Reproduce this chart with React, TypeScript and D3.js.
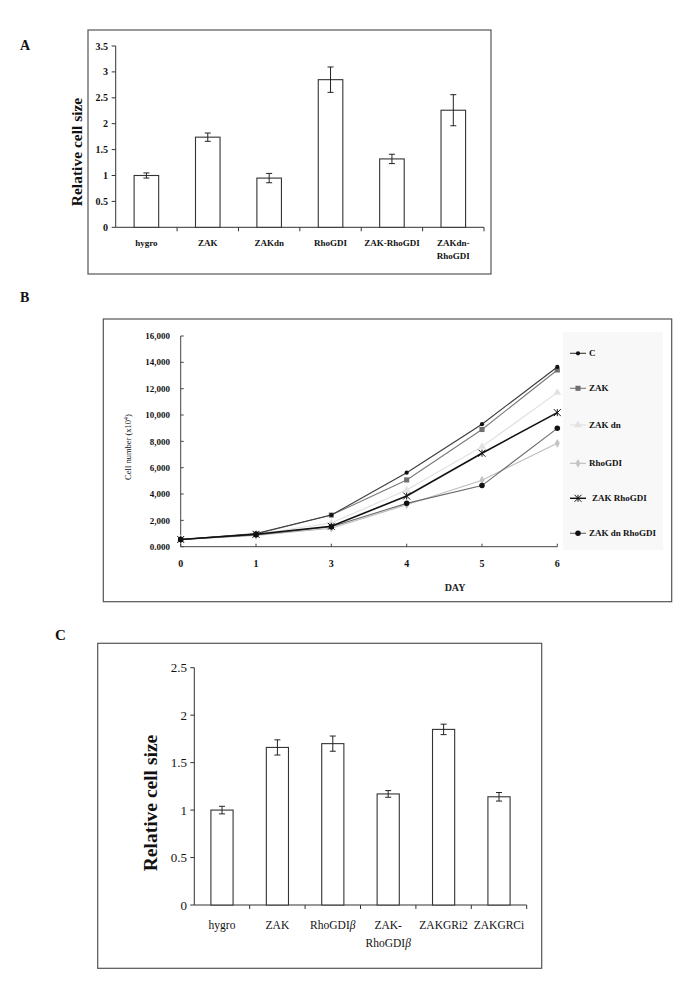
import React from "react";
import * as d3 from "d3";

// ---------- Panel A data ----------
const catsA = ["hygro", "ZAK", "ZAKdn", "RhoGDI", "ZAK-RhoGDI", "ZAKdn-RhoGDI"];
const labelsA = [["hygro"], ["ZAK"], ["ZAKdn"], ["RhoGDI"], ["ZAK-RhoGDI"], ["ZAKdn-", "RhoGDI"]];
const valsA = [1.0, 1.74, 0.95, 2.85, 1.32, 2.26];
const errA = [0.05, 0.08, 0.09, 0.245, 0.09, 0.3];
const ticksA = [0, 0.5, 1, 1.5, 2, 2.5, 3, 3.5];
const tickLabelsA = ["0", "0.5", "1", "1.5", "2", "2.5", "3", "3.5"];

// ---------- Panel B data ----------
const days = ["0", "1", "3", "4", "5", "6"];
const seriesNames = ["C", "ZAK", "ZAK dn", "RhoGDI", "ZAK RhoGDI", "ZAK dn RhoGDI"];
const sC = [550, 1000, 2400, 5620, 9300, 13650];
const sZAK = [550, 960, 2400, 5070, 8900, 13420];
const sZAKdn = [550, 950, 1800, 4300, 7600, 11700];
const sRho = [550, 860, 1400, 3180, 5050, 7850];
const sZAKRho = [550, 940, 1550, 3850, 7100, 10180];
const sZAKdnRho = [550, 900, 1520, 3290, 4640, 8990];
const ticksB = [0, 2000, 4000, 6000, 8000, 10000, 12000, 14000, 16000];
const tickLabelsB = ["0.000", "2,000", "4,000", "6,000", "8,000", "10,000", "12,000", "14,000", "16,000"];

// ---------- Panel C data ----------
const catsC = ["hygro", "ZAK", "RhoGDIb", "ZAK-RhoGDIb", "ZAKGRi2", "ZAKGRCi"];
const valsC = [1.0, 1.66, 1.70, 1.17, 1.85, 1.14];
const errC = [0.04, 0.08, 0.08, 0.035, 0.055, 0.045];
const ticksC = [0, 0.5, 1, 1.5, 2, 2.5];
const tickLabelsC = ["0", "0.5", "1", "1.5", "2", "2.5"];

const SERIF = "'Liberation Serif', 'Times New Roman', serif";

function BarPanel(props: any) {
  const { cats, vals, errs, ticks, tickLabels, yMax, x0, x1, y0, y1, box, bold, tickFont, labelFont,
    yLabelX, yLabelY, yLabelSize, xLabelY, xLabelLineH, renderLabel, tickLabelX, yTickOut, xTickLen } = props;
  const x = d3.scaleBand<string>().domain(cats).range([x0, x1]).paddingInner(0.6).paddingOuter(0.3);
  const y = d3.scaleLinear().domain([0, yMax]).range([y0, y1]);
  const step = x.step();
  return (
    <g>
      <rect x={box[0]} y={box[1]} width={box[2] - box[0]} height={box[3] - box[1]} fill="#fff" stroke="#555" strokeWidth={1.2} />
      {/* y axis */}
      <line x1={x0} x2={x0} y1={y(0)} y2={y(yMax)} stroke="#333" strokeWidth={1} />
      {ticks.map((t: number, i: number) => (
        <g key={"t" + i}>
          <line x1={x0 - yTickOut} x2={x0} y1={y(t)} y2={y(t)} stroke="#333" />
          <text x={tickLabelX} y={y(t)} dy="0.35em" textAnchor="end" fontFamily={SERIF}
            fontWeight={bold ? "bold" : "normal"} fontSize={tickFont} fill="#111">{tickLabels[i]}</text>
        </g>
      ))}
      {/* x axis */}
      <line x1={x0} x2={x1} y1={y(0)} y2={y(0)} stroke="#333" strokeWidth={1} />
      {cats.map((_: string, i: number) => (
        <line key={"xt" + i} x1={x0 + (i + 1) * step} x2={x0 + (i + 1) * step} y1={y(0)} y2={y(0) + xTickLen} stroke="#333" />
      ))}
      {/* bars */}
      {cats.map((c: string, i: number) => {
        const cx = (x(c) as number) + x.bandwidth() / 2;
        return (
          <g key={"b" + i}>
            <rect x={x(c)} y={y(vals[i])} width={x.bandwidth()} height={y(0) - y(vals[i])} fill="#fff" stroke="#333" strokeWidth={1.1} />
            <line x1={cx} x2={cx} y1={y(vals[i] + errs[i])} y2={y(vals[i] - errs[i])} stroke="#222" strokeWidth={1} />
            <line x1={cx - 3} x2={cx + 3} y1={y(vals[i] + errs[i])} y2={y(vals[i] + errs[i])} stroke="#222" strokeWidth={1} />
            <line x1={cx - 3} x2={cx + 3} y1={y(vals[i] - errs[i])} y2={y(vals[i] - errs[i])} stroke="#222" strokeWidth={1} />
            <text x={cx} y={xLabelY} textAnchor="middle" fontFamily={SERIF} fontWeight={bold ? "bold" : "normal"}
              fontSize={labelFont} fill="#111">
              {renderLabel(i, cx, xLabelY, xLabelLineH)}
            </text>
          </g>
        );
      })}
      <text transform={`translate(${yLabelX},${yLabelY}) rotate(-90)`} textAnchor="middle" dy="0.35em"
        fontFamily={SERIF} fontWeight="bold" fontSize={yLabelSize} fill="#111">Relative cell size</text>
    </g>
  );
}

const colorsB = ["#3a3a3a", "#7a7a7a", "#dedede", "#bdbdbd", "#111111", "#6a6a6a"];
const markerFill = ["#111", "#6f6f6f", "#e2e2e2", "#c4c4c4", "#111", "#111"];
const seriesData = [sC, sZAK, sZAKdn, sRho, sZAKRho, sZAKdnRho];

function Marker({ k, x, y }: { k: number; x: number; y: number }) {
  if (k === 4) {
    const r = 3.5;
    return (
      <g stroke="#111" strokeWidth={1}>
        <line x1={x - r} x2={x + r} y1={y - r} y2={y + r} />
        <line x1={x - r} x2={x + r} y1={y + r} y2={y - r} />
        <line x1={x} x2={x} y1={y - r} y2={y + r} />
      </g>
    );
  }
  const types = [d3.symbolCircle, d3.symbolSquare, d3.symbolTriangle, d3.symbolDiamond, d3.symbolCircle, d3.symbolCircle];
  const sizes = [14, 26, 26, 22, 0, 24];
  const p = d3.symbol().type(types[k]).size(sizes[k])();
  return <path d={p as string} transform={`translate(${x},${y})`} fill={markerFill[k]} />;
}

function LinePanel() {
  const x = d3.scalePoint<string>().domain(days).range([180.7, 557.3]).padding(0);
  const y = d3.scaleLinear().domain([0, 16000]).range([546.7, 336]);
  const line = d3.line<number>().x((_, i) => x(days[i]) as number).y((d) => y(d));
  const legendY = [353.3, 388.3, 425, 463.3, 498.3, 533.3];
  const drawOrder = [3, 2, 1, 0, 5, 4];
  return (
    <g>
      <rect x={103.3} y={319} width={568.4} height={282.7} fill="#fff" stroke="#555" strokeWidth={1.2} />
      <rect x={563} y={332} width={100} height={218} fill="#f8f8f8" />
      {/* axes */}
      <line x1={x("0")} x2={x("0")} y1={y(0)} y2={y(16000)} stroke="#444" />
      {ticksB.map((t, i) => (
        <g key={"yt" + i}>
          <line x1={x("0") as number} x2={(x("0") as number) + 3} y1={y(t)} y2={y(t)} stroke="#444" />
          <text x={170} y={y(t)} dy="0.35em" textAnchor="end" fontFamily={SERIF} fontWeight="bold" fontSize={9} fill="#111">{tickLabelsB[i]}</text>
        </g>
      ))}
      <line x1={x("0")} x2={x("6")} y1={y(0)} y2={y(0)} stroke="#444" />
      {days.map((d) => (
        <g key={"xt" + d}>
          <line x1={x(d)} x2={x(d)} y1={y(0)} y2={y(0) - 3} stroke="#444" />
          <text x={x(d)} y={567} textAnchor="middle" fontFamily={SERIF} fontWeight="bold" fontSize={10} fill="#111">{d}</text>
        </g>
      ))}
      <text x={455} y={591} textAnchor="middle" fontFamily={SERIF} fontWeight="bold" fontSize={10} fill="#222">DAY</text>
      <text transform="translate(128,447) rotate(-90)" textAnchor="middle" dy="0.35em" fontFamily={SERIF} fontSize={8.5} fill="#111">
        Cell number (x10<tspan dy="-3" fontSize={6}>4</tspan><tspan dy="3">)</tspan>
      </text>
      {/* series */}
      {drawOrder.map((k) => (
        <g key={"s" + k}>
          <path d={line(seriesData[k]) as string} fill="none" stroke={colorsB[k]} strokeWidth={k === 4 ? 1.6 : 1.1} />
          {seriesData[k].map((v, i) => (
            <Marker key={i} k={k} x={x(days[i]) as number} y={y(v)} />
          ))}
        </g>
      ))}
      {/* legend */}
      {seriesNames.map((n, k) => (
        <g key={"l" + k}>
          <line x1={570} x2={586} y1={legendY[k]} y2={legendY[k]} stroke={colorsB[k]} strokeWidth={k === 4 ? 1.4 : 1.1} />
          <Marker k={k} x={578} y={legendY[k]} />
          <text x={k === 4 ? 592 : 589} y={legendY[k]} dy="0.35em" fontFamily={SERIF} fontWeight="bold" fontSize={9} fill="#111">{n}</text>
        </g>
      ))}
    </g>
  );
}

export default function App() {
  const labelA = (i: number, cx: number, y: number, lh: number) =>
    labelsA[i].map((s, j) => (
      <tspan key={j} x={cx} y={y + j * lh}>{s}</tspan>
    ));
  const labelC = (i: number, cx: number, y: number, lh: number) => {
    if (i === 2) return <tspan x={cx} y={y}>RhoGDI<tspan fontStyle="italic">β</tspan></tspan>;
    if (i === 3)
      return [
        <tspan key="a" x={cx} y={y}>ZAK-</tspan>,
        <tspan key="b" x={cx} y={y + lh}>RhoGDI<tspan fontStyle="italic">β</tspan></tspan>,
      ];
    return <tspan x={cx} y={y}>{catsC[i]}</tspan>;
  };
  return (
    <svg width={685} height={994} style={{ position: "absolute", left: 0, top: 0, background: "#fff" }}>
      <rect width={685} height={994} fill="#fff" />
      <text x={20} y={50} fontFamily={SERIF} fontWeight="bold" fontSize={14} fill="#111">A</text>
      <BarPanel cats={catsA} vals={valsA} errs={errA} ticks={ticksA} tickLabels={tickLabelsA} yMax={3.5}
        x0={115.7} x1={484} y0={227.3} y1={46} box={[88, 30, 491, 274]} bold={true} tickFont={10} labelFont={9}
        yLabelX={77} yLabelY={152} yLabelSize={15.5} xLabelY={246} xLabelLineH={13} renderLabel={labelA}
        tickLabelX={108} yTickOut={4} xTickLen={4} />
      <text x={20} y={302} fontFamily={SERIF} fontWeight="bold" fontSize={14} fill="#111">B</text>
      <LinePanel />
      <text x={55} y={640} fontFamily={SERIF} fontWeight="bold" fontSize={15} fill="#111">C</text>
      <BarPanel cats={catsC} vals={valsC} errs={errC} ticks={ticksC} tickLabels={tickLabelsC} yMax={2.5}
        x0={194.3} x1={526.7} y0={905} y1={667.7} box={[97.7, 643.3, 541.7, 968.3]} bold={false} tickFont={13} labelFont={11.5}
        yLabelX={150} yLabelY={803} yLabelSize={19.5} xLabelY={929} xLabelLineH={18} renderLabel={labelC}
        tickLabelX={187} yTickOut={4} xTickLen={4} />
    </svg>
  );
}
